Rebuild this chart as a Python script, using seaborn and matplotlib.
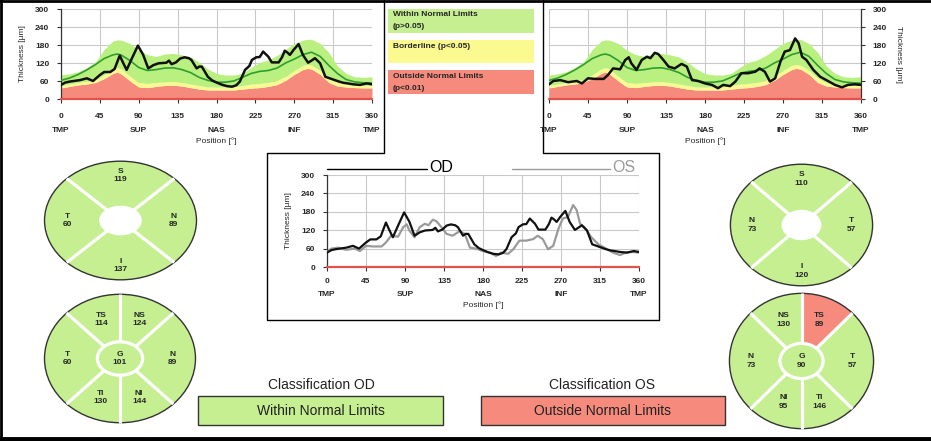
import numpy as np
import matplotlib
matplotlib.use("Agg")
import matplotlib.pyplot as plt
from matplotlib.patches import Wedge, Ellipse, Rectangle
import seaborn as sns

# ---- data ----
X_TICKS = [0, 45, 90, 135, 180, 225, 270, 315, 360]
Y_TICKS = [0, 60, 120, 180, 240, 300]
CAT_POS = [0, 90, 180, 270, 360]
CAT_NAMES = ["TMP", "SUP", "NAS", "INF", "TMP"]

# normative database (percentile limits and mean)
NORM_DEG = [0, 10, 20, 30, 40, 50, 60, 65, 70, 80, 90, 100, 110, 120, 130, 140, 150, 160, 170, 180,
            190, 200, 210, 220, 230, 240, 250, 260, 270, 280, 285, 290, 300, 310, 320, 330, 340, 350, 360]
NORM_P95 = [80, 84, 91, 105, 124, 165, 193, 197, 196, 185, 162, 148, 142, 150, 152, 147, 140, 122, 100, 85,
            80, 80, 85, 105, 122, 130, 145, 165, 185, 196, 199, 199, 185, 155, 110, 85, 74, 72, 74]
NORM_MEAN = [62, 70, 82, 97, 115, 135, 147, 150, 146, 128, 105, 95, 98, 103, 104, 98, 88, 72, 62, 56,
             56, 60, 72, 85, 92, 95, 103, 120, 133, 148, 152, 156, 142, 112, 85, 65, 57, 54, 53]
NORM_P5 = [45, 50, 55, 60, 65, 80, 100, 105, 100, 75, 55, 52, 55, 57, 58, 55, 50, 45, 40, 40,
           40, 40, 45, 50, 52, 55, 62, 75, 95, 112, 115, 113, 95, 70, 55, 50, 48, 46, 45]
NORM_P1 = [37, 42, 47, 50, 55, 68, 85, 90, 83, 60, 40, 38, 42, 45, 46, 43, 38, 33, 30, 30,
           30, 30, 33, 36, 38, 42, 48, 62, 82, 98, 102, 100, 82, 55, 43, 40, 38, 37, 37]

OD_DEG = [0, 5, 10, 22, 30, 37, 45, 50, 57, 62, 68, 72, 76, 82, 89, 95, 101, 107, 113, 118,
          122, 125, 128, 133, 138, 143, 148, 151, 157, 160, 163, 170, 175, 180, 186, 192, 198, 203, 207, 213,
          218, 221, 226, 230, 234, 240, 244, 248, 252, 256, 259, 262, 265, 269, 275, 280, 286, 290, 294, 300,
          306, 311, 317, 322, 327, 332, 338, 346, 354, 360]
OD_VAL = [47, 55, 58, 63, 69, 60, 80, 90, 90, 100, 145, 120, 97, 135, 178, 148, 102, 113, 119, 120,
          121, 128, 116, 122, 135, 139, 136, 130, 102, 108, 108, 74, 62, 55, 48, 43, 41, 46, 58, 97,
          110, 130, 139, 140, 158, 141, 122, 122, 122, 140, 161, 155, 147, 163, 183, 147, 121, 128, 136, 119,
          74, 69, 63, 58, 54, 52, 49, 47, 52, 49]

OS_DEG = [0, 5, 13, 22, 32, 38, 45, 53, 63, 68, 74, 82, 88, 92, 95, 101, 107, 113, 117, 122,
          126, 132, 138, 145, 153, 159, 165, 172, 180, 188, 195, 201, 209, 215, 222, 230, 238, 243, 249, 255,
          261, 267, 272, 278, 284, 288, 292, 297, 305, 313, 320, 330, 338, 345, 353, 360]
OS_VAL = [49, 60, 63, 56, 60, 52, 69, 67, 67, 80, 102, 99, 130, 139, 119, 97, 130, 141, 136, 154,
          150, 130, 108, 102, 117, 108, 63, 60, 52, 47, 36, 47, 43, 58, 86, 86, 91, 102, 91, 58,
          69, 124, 158, 163, 202, 186, 141, 130, 97, 74, 63, 47, 39, 47, 49, 47]

# sector maps: label, value, classification
OD_QUAD = [("S", 119, "W"), ("N", 89, "W"), ("I", 137, "W"), ("T", 60, "W")]
OS_QUAD = [("S", 110, "W"), ("T", 57, "W"), ("I", 120, "W"), ("N", 73, "W")]
OD_SECT = [("TS", 114, "W"), ("NS", 124, "W"), ("N", 89, "W"), ("NI", 144, "W"), ("TI", 130, "W"), ("T", 60, "W")]
OS_SECT = [("TS", 89, "O"), ("NS", 130, "W"), ("N", 73, "W"), ("NI", 95, "W"), ("TI", 146, "W"), ("T", 57, "W")]
OD_G, OS_G = 101, 90

LEGEND_TEXT = [("Within Normal Limits", "(p>0.05)"), ("Borderline (p<0.05)", ""), ("Outside Normal Limits", "(p<0.01)")]
CLASS_OD = "Within Normal Limits"
CLASS_OS = "Outside Normal Limits"

GREEN = "#c6ef92"
BAND_GREEN = "#b9f080"
YELLOW = "#fbfa90"
RED = "#f68a7c"
STATUS_COL = {"W": GREEN, "O": RED}

sns.set_style("white")
plt.rcParams["font.family"] = ["Liberation Sans", "DejaVu Sans"]

W, H = 931, 441
fig = plt.figure(figsize=(W / 100, H / 100), dpi=100)


def rect(l, t, r, b):
    return [l / W, 1 - b / H, (r - l) / W, (b - t) / H]


# overlay in pixel coordinates for frames and free text
ov = fig.add_axes([0, 0, 1, 1])
ov.set_xlim(0, W)
ov.set_ylim(H, 0)
ov.axis("off")
frame = dict(color="black", lw=1.0, clip_on=False)
ov.plot([0, W], [1, 1], **dict(frame, lw=2))
ov.plot([1, 1], [0, H], **dict(frame, lw=2))
ov.plot([0, W], [439, 439], **dict(frame, lw=3.5))
ov.plot([384, 384, 267, 267, 659, 659, 543, 543], [0, 153, 153, 320, 320, 153, 153, 0], **frame)


def thickness_axes(l, t, r, b, side="left", xpad=7):
    ax = fig.add_axes(rect(l, t, r, b))
    ax.set_xlim(0, 360)
    ax.set_ylim(0, 300)
    ax.set_xticks(X_TICKS)
    ax.set_yticks(Y_TICKS)
    ax.grid(True, color="#c9c9c9", lw=0.8)
    ax.set_axisbelow(True)
    for s in ax.spines.values():
        s.set_visible(False)
    ax.spines[side].set_visible(True)
    ax.spines[side].set_color("#333333")
    ax.spines[side].set_linewidth(0.9)
    if side == "right":
        ax.yaxis.tick_right()
    ax.axhline(0, color="#e0524a", lw=1.6, zorder=6, clip_on=False)
    ax.tick_params(axis="y", length=3, width=0.8, color="#333333", labelsize=6, pad=5.5,
                   left=(side == "left"), right=(side == "right"))
    ax.tick_params(axis="x", length=3, width=0.8, color="#333333", labelsize=6, pad=xpad, bottom=True)
    for lab in ax.get_xticklabels() + ax.get_yticklabels():
        lab.set_fontweight("bold")
    hpx = b - t
    for pos, name in zip(CAT_POS, CAT_NAMES):
        ax.text(pos, -(31 if xpad > 6 else 28) / hpx, name, transform=ax.get_xaxis_transform(),
                ha="center", va="center", fontsize=6, fontweight="bold")
    ax.text(180, -(42 if xpad > 6 else 38) / hpx, "Position [°]", transform=ax.get_xaxis_transform(),
            ha="center", va="center", fontsize=6)
    lx = -39 / (r - l) if side == "left" else 1 + 38 / (r - l)
    ax.text(lx, 0.5, "Thickness [µm]", transform=ax.transAxes, rotation=90 if side == "left" else 270,
            ha="center", va="center", fontsize=6)
    ax.set_xlabel("")
    ax.set_ylabel("")
    return ax


def draw_norm(ax):
    ax.fill_between(NORM_DEG, 0, NORM_P1, color=RED, lw=0, zorder=1)
    ax.fill_between(NORM_DEG, NORM_P1, NORM_P5, color=YELLOW, lw=0, zorder=1)
    ax.fill_between(NORM_DEG, NORM_P5, NORM_P95, color=BAND_GREEN, lw=0, zorder=1)
    sns.lineplot(x=NORM_DEG, y=NORM_MEAN, ax=ax, color="#2f9e2f", lw=1.2, sort=False, zorder=3)


ax_od = thickness_axes(61, 9, 372, 99, "left")
draw_norm(ax_od)
sns.lineplot(x=OD_DEG, y=OD_VAL, ax=ax_od, color="#111111", lw=1.8, sort=False, zorder=4)

ax_os = thickness_axes(549, 9, 861, 99, "right")
draw_norm(ax_os)
sns.lineplot(x=OS_DEG, y=OS_VAL, ax=ax_os, color="#111111", lw=1.8, sort=False, zorder=4)

ax_c = thickness_axes(327, 175, 639, 267, "left", xpad=5)
sns.lineplot(x=OS_DEG, y=OS_VAL, ax=ax_c, color="#9a9a9a", lw=1.6, sort=False, zorder=3)
sns.lineplot(x=OD_DEG, y=OD_VAL, ax=ax_c, color="#111111", lw=1.6, sort=False, zorder=4)
for ax in (ax_od, ax_os, ax_c):
    ax.set_xlim(0, 360)
    ax.set_ylim(0, 300)
    ax.set_xlabel("")
    ax.set_ylabel("")

# OD / OS keys above the centre chart
ov.plot([327, 427], [169, 169], color="black", lw=1.0)
ov.text(429, 168, "OD", fontsize=11.5, va="center", ha="left", color="black")
ov.plot([512, 610], [169, 169], color="#9a9a9a", lw=1.0)
ov.text(612, 168, "OS", fontsize=11.5, va="center", ha="left", color="#9a9a9a")

# legend boxes
for (l1, l2), col, (t, b) in zip(LEGEND_TEXT, [GREEN, YELLOW, RED], [(9, 33), (40, 63), (70, 94)]):
    ov.add_patch(Rectangle((388, t), 146, b - t, facecolor=col, edgecolor="none"))
    ov.text(393, t + 6, l1, fontsize=6, fontweight="bold", va="center", ha="left")
    if l2:
        ov.text(393, t + 18, l2, fontsize=6, fontweight="bold", va="center", ha="left")

# classification boxes
for cx, title, label, col, l, r in [(321, "Classification OD", CLASS_OD, GREEN, 198, 443),
                                    (602, "Classification OS", CLASS_OS, RED, 481, 725)]:
    ov.text(cx, 385, title, fontsize=10, ha="center", va="center", color="#222222")
    ov.add_patch(Rectangle((l, 396), r - l, 29, facecolor=col, edgecolor="#333333", lw=1))
    ov.text((l + r) / 2, 411, label, fontsize=10, ha="center", va="center", color="#222222")


def quad_map(box, items, mirrored):
    ax = fig.add_axes(rect(*box))
    ax.set_xlim(-1.02, 1.02)
    ax.set_ylim(-1.02, 1.02)
    ax.axis("off")
    centres = {"S": 90, "I": 270, "N": 180 if mirrored else 0, "T": 0 if mirrored else 180}
    for name, val, st in items:
        a = centres[name]
        ax.add_patch(Wedge((0, 0), 1, a - 45, a + 45, facecolor=STATUS_COL[st], edgecolor="none"))
        r = 0.76 if name in ("S", "I") else 0.70
        ax.text(r * np.cos(np.radians(a)), r * np.sin(np.radians(a)), f"{name}\n{val}",
                ha="center", va="center", fontsize=6, fontweight="bold", linespacing=1.3)
    for a in (45, 135, 225, 315):
        c, s = np.cos(np.radians(a)), np.sin(np.radians(a))
        ax.plot([0.2 * c, c], [0.2 * s, s], color="white", lw=2.3, solid_capstyle="butt")
    ax.add_patch(Ellipse((0, 0), 0.56, 0.5, facecolor="white", edgecolor="none"))
    ax.add_patch(Ellipse((0, 0), 2, 2, facecolor="none", edgecolor="#333333", lw=1))


def sector_map(box, items, g_val, mirrored):
    ax = fig.add_axes(rect(*box))
    ax.set_xlim(-1.02, 1.02)
    ax.set_ylim(-1.02, 1.02)
    ax.axis("off")
    spans = {"TS": (90, 135), "NS": (45, 90), "N": (-45, 45), "NI": (270, 315), "TI": (225, 270), "T": (135, 225)}
    for name, val, st in items:
        a1, a2 = spans[name]
        if mirrored:
            a1, a2 = 180 - a2, 180 - a1
        ax.add_patch(Wedge((0, 0), 1, a1, a2, facecolor=STATUS_COL[st], edgecolor="none"))
        a = np.radians((a1 + a2) / 2)
        r = 0.70 if name in ("N", "T") else 0.66
        ax.text(r * np.cos(a), r * np.sin(a), f"{name}\n{val}",
                ha="center", va="center", fontsize=6, fontweight="bold", linespacing=1.3)
    for a in (45, 90, 135, 225, 270, 315):
        c, s = np.cos(np.radians(a)), np.sin(np.radians(a))
        ax.plot([0.28 * c, c], [0.25 * s, s], color="white", lw=2.3, solid_capstyle="butt")
    ax.add_patch(Ellipse((0, 0), 0.6, 0.52, facecolor=GREEN, edgecolor="white", lw=2.3))
    ax.text(0, 0, f"G\n{g_val}", ha="center", va="center", fontsize=6, fontweight="bold", linespacing=1.3)
    ax.add_patch(Ellipse((0, 0), 2, 2, facecolor="none", edgecolor="#333333", lw=1))


quad_map((43, 160, 198, 281), OD_QUAD, False)
sector_map((43, 293, 197, 424), OD_SECT, OD_G, False)
quad_map((729, 163, 874, 287), OS_QUAD, True)
sector_map((728, 292, 875, 430), OS_SECT, OS_G, True)

fig.savefig("out.png", dpi=100)
